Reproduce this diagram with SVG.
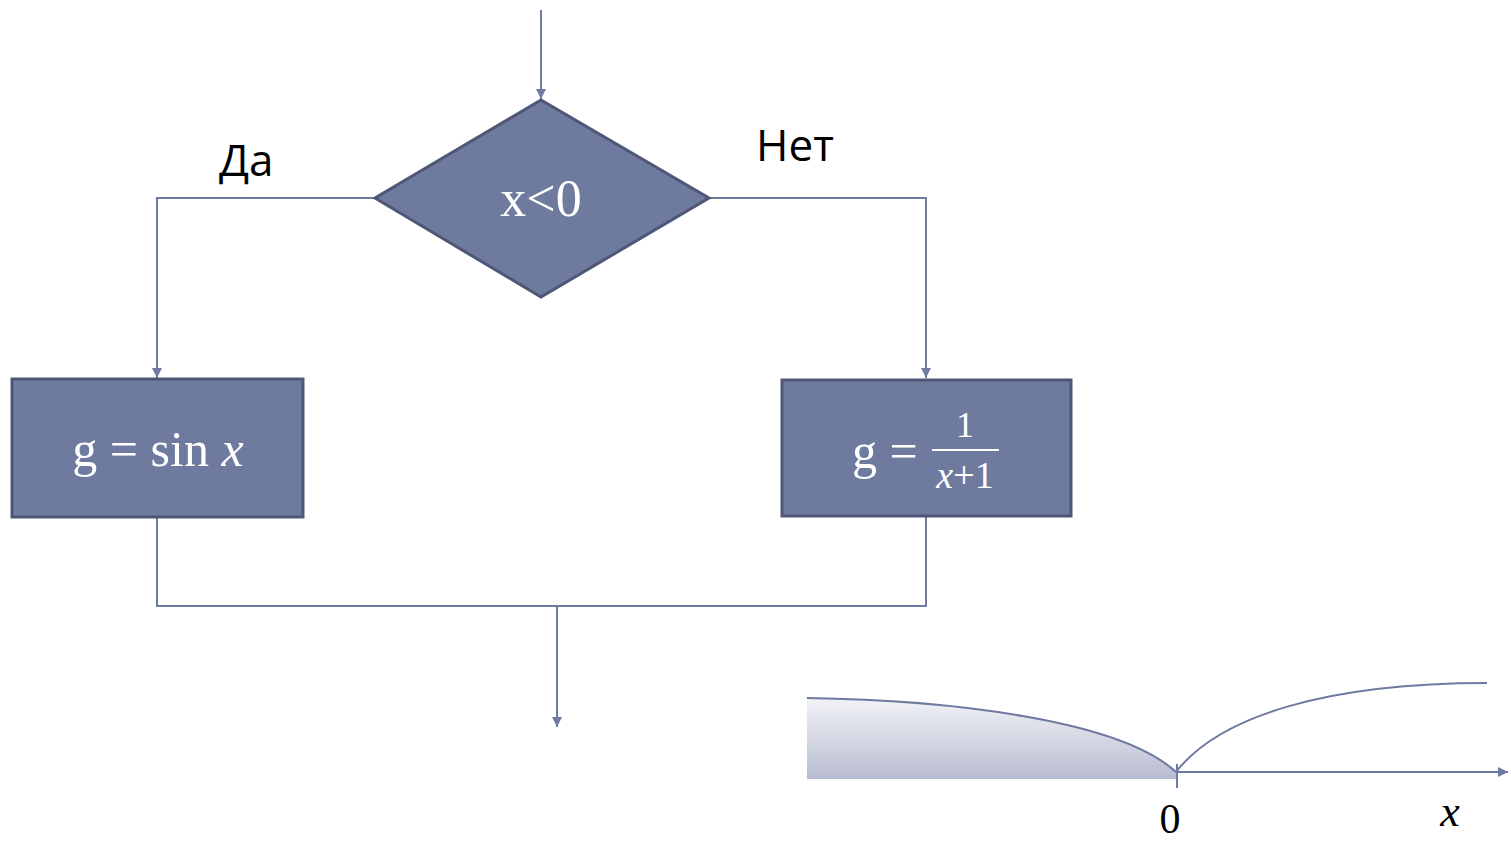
<svg xmlns="http://www.w3.org/2000/svg" width="1511" height="843" viewBox="0 0 1511 843">
<defs>
<style>
.conn{fill:none;stroke:#6f7aa2;stroke-width:2}
.node{fill:#6f7a9f;stroke:#4e5777;stroke-width:3}
.mt{font-family:"Liberation Serif","DejaVu Serif",serif;fill:#ffffff}
.lbl{font-family:"Open Sans","Liberation Sans",sans-serif;font-size:44px;fill:#000}
</style>
<marker id="arr" viewBox="0 0 10 10" refX="10" refY="5" markerWidth="10" markerHeight="10" markerUnits="userSpaceOnUse" orient="auto">
<path d="M0,0 L10,5 L0,10 z" fill="#6f7aa2"/>
</marker>
<linearGradient id="gr" x1="0" y1="0" x2="0" y2="1">
<stop offset="0" stop-color="#f2f3f7"/>
<stop offset="1" stop-color="#b8bcd0"/>
</linearGradient>
</defs>
<rect width="1511" height="843" fill="#ffffff"/>
<g id="connectors">
<path class="conn" d="M541,10 V99" marker-end="url(#arr)"/>
<path class="conn" d="M375,198 H157 V378" marker-end="url(#arr)"/>
<path class="conn" d="M709,198 H926 V378" marker-end="url(#arr)"/>
<path class="conn" d="M157,517 V606 H926 V516"/>
<path class="conn" d="M557,606 V727" marker-end="url(#arr)"/>
</g>
<g id="decision">
<polygon class="node" points="541,100 709,198 541,297 375,198"/>
<text class="mt" x="541" y="216" font-size="52" text-anchor="middle">x&lt;0</text>
</g>
<g id="box-yes">
<rect class="node" x="12" y="379" width="291" height="138"/>
<text class="mt" x="158" y="466" font-size="50" text-anchor="middle">g = sin <tspan font-style="italic">x</tspan></text>
</g>
<g id="box-no">
<rect class="node" x="782" y="380" width="289" height="136"/>
<text class="mt" x="852" y="468" font-size="50">g =</text>
<text class="mt" x="965" y="437" font-size="36" text-anchor="middle">1</text>
<line x1="932" y1="450" x2="999" y2="450" stroke="#ffffff" stroke-width="2"/>
<text class="mt" x="965" y="488" font-size="38" text-anchor="middle"><tspan font-style="italic">x</tspan>+1</text>
</g>
<g id="label-yes"><text class="lbl" x="219" y="176">Да</text></g>
<g id="label-no"><text class="lbl" x="756" y="161">Нет</text></g>
<g id="graph">
<path d="M807,698 C950,700 1120,720 1176,772 L1176,779 L807,779 Z" fill="url(#gr)"/>
<path class="conn" d="M807,698 C950,700 1120,720 1176,772"/>
<path class="conn" d="M1176,772 C1220,715 1330,683 1487,683"/>
<path class="conn" d="M1176,772 H1508" marker-end="url(#arr)"/>
<line class="conn" x1="1177" y1="764" x2="1177" y2="788"/>
<text x="1170" y="833" font-family="Liberation Serif, serif" font-size="42" fill="#000" text-anchor="middle">0</text>
<text x="1450" y="826" font-family="Liberation Serif, serif" font-size="44" font-style="italic" fill="#000" text-anchor="middle">x</text>
</g>
</svg>
